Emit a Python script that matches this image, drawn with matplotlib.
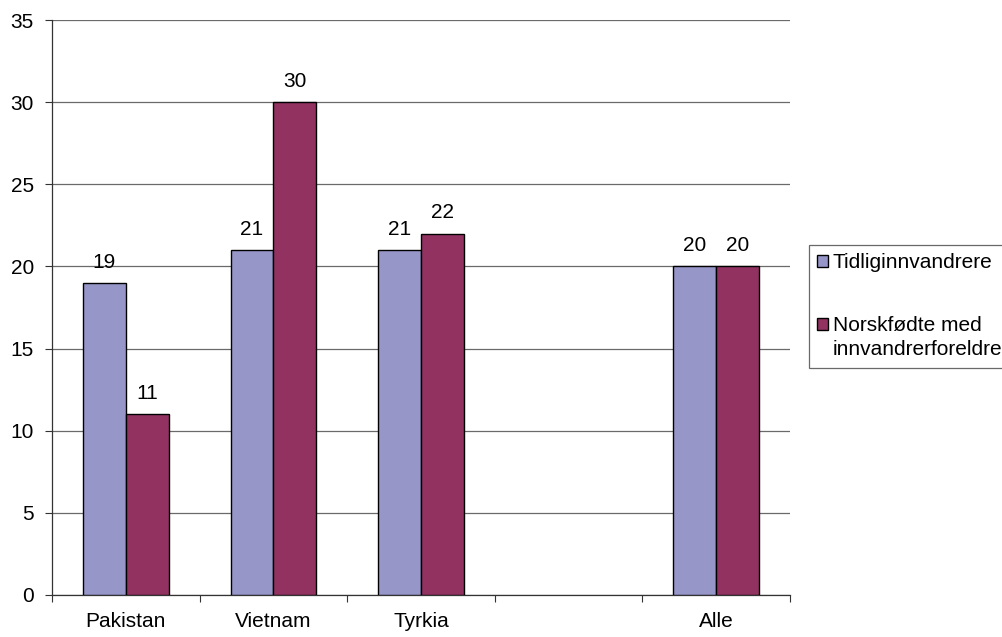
import numpy as np
import matplotlib.pyplot as plt
from matplotlib.patches import Rectangle
from matplotlib.legend_handler import HandlerPatch

plt.rcParams['font.family'] = ['Liberation Sans', 'DejaVu Sans']

# Andel (%) per landbakgrunn
categories = ['Pakistan', 'Vietnam', 'Tyrkia', '', 'Alle']
tidlig = [19, 21, 21, np.nan, 20]
norsk = [11, 30, 22, np.nan, 20]
series_names = ['Tidliginnvandrere', 'Norskfødte med\ninnvandrerforeldre']
colors = ['#9696C8', '#923260']

fig = plt.figure(figsize=(10.03, 6.37), dpi=100)
ax = fig.add_axes([52 / 1003, 42 / 637, 738 / 1003, 575 / 637])

x = np.arange(len(categories))
w = 0.29
b1 = ax.bar(x - w / 2, tidlig, w, color=colors[0], edgecolor='black', linewidth=1, label=series_names[0], zorder=3)
b2 = ax.bar(x + w / 2, norsk, w, color=colors[1], edgecolor='black', linewidth=1, label=series_names[1], zorder=3)

fs = 15
for xs, vals in [(x - w / 2, tidlig), (x + w / 2, norsk)]:
    for xi, v in zip(xs, vals):
        if np.isnan(v):
            continue
        ax.annotate(f'{v:g}', (xi, v), xytext=(0, 8), textcoords='offset points',
                    ha='center', va='bottom', fontsize=fs)

ax.set_xlim(-0.5, len(categories) - 0.5)
ax.set_ylim(0, 35)
ax.set_yticks(range(0, 36, 5))
ax.yaxis.grid(True, color='#6a6a6a', linewidth=0.9, zorder=0)
ax.set_axisbelow(True)

# category boundaries as major ticks, names as minor ticks
ax.set_xticks(np.arange(-0.5, len(categories), 1.0))
ax.set_xticklabels([])
ax.set_xticks(x, minor=True)
ax.set_xticklabels(categories, minor=True)
ax.tick_params(axis='x', which='major', length=5, width=0.8, color='#333333')
ax.tick_params(axis='x', which='minor', length=0, pad=12, labelsize=fs)
ax.tick_params(axis='y', length=5, width=0.8, color='#333333', labelsize=fs, pad=8)

for s in ['top', 'right']:
    ax.spines[s].set_visible(False)
for s in ['left', 'bottom']:
    ax.spines[s].set_color('#333333')
    ax.spines[s].set_linewidth(0.9)


# legend square sits beside the first line of a two-line label
def top_square(legend, orig_handle, xdescent, ydescent, width, height, fontsize):
    return Rectangle((-xdescent, -ydescent + 0.66 * fontsize), width, height)


h1, h2 = b1.patches[0], b2.patches[0]
leg = fig.legend(handles=[h1, h2], labels=series_names, loc='upper left',
                 bbox_to_anchor=(809 / 1003, 392 / 637),
                 handler_map={h2: HandlerPatch(patch_func=top_square)},
                 frameon=True, fancybox=False, edgecolor='#444444', fontsize=fs,
                 handlelength=0.5, handleheight=0.5, handletextpad=0.25,
                 labelspacing=2.1, borderaxespad=0, borderpad=0.4)
leg.get_frame().set_linewidth(0.9)
for t in leg.get_texts():
    t.set_linespacing(1.35)

fig.savefig('out.png', dpi=100)
